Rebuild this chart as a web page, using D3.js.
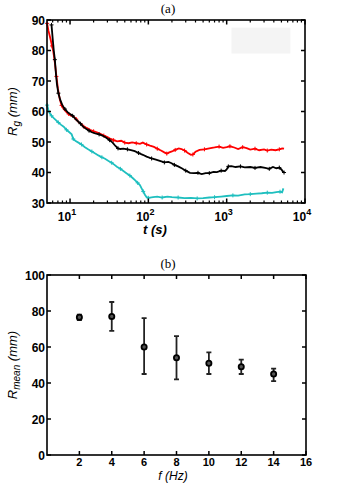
<!DOCTYPE html>
<html>
<head>
<meta charset="utf-8">
<script src="https://cdn.jsdelivr.net/npm/d3@7"></script>
<style>
  body { margin: 0; background: #fff; }
  svg { display: block; }
</style>
</head>
<body>
<div id="chart"></div>
<script>
// panel (a): R_g versus t, three runs
const redT = [5.1, 5.3, 5.6, 5.9, 6.1, 6.4, 6.7, 7.0, 7.4, 7.8, 8.3, 9.0, 9.6, 10.3, 11, 12, 13, 14, 15, 16.5, 18, 20, 22, 24, 27, 30, 33, 36, 40, 45, 50, 56, 62, 70, 78, 85, 95, 105, 118, 130, 145, 160, 172, 185, 200, 220, 245, 265, 290, 320, 350, 370, 400, 450, 520, 600, 700, 800, 900, 1000, 1100, 1250, 1400, 1600, 1800, 2000, 2300, 2600, 3000, 3300, 3700, 4200, 4700, 5100, 5400];
const redR = [88.9, 86.5, 84, 81.5, 79.8, 76, 71.5, 67.5, 64, 62, 60.8, 59.8, 59.2, 58.6, 58.4, 57.5, 56.4, 55.9, 55, 54.6, 54, 53.5, 53.2, 52.8, 52.1, 51.6, 51, 50.6, 50.2, 50.4, 49.8, 49.6, 49.9, 49.6, 49.4, 49.8, 49.2, 48.8, 48.4, 47.8, 47.2, 46.6, 46.2, 46.6, 46.9, 47.4, 47.9, 47.7, 47.2, 46.4, 45.8, 45.9, 46.8, 47.4, 47.6, 47.9, 48.2, 48.5, 48.1, 48.3, 48.6, 48.2, 47.7, 48.3, 48.0, 47.5, 47.8, 47.3, 47.6, 47.2, 47.5, 47.3, 47.6, 47.9, 47.8];

const blackT = [5.8, 6.0, 6.2, 6.4, 6.6, 6.8, 7.1, 7.5, 8.0, 8.6, 9.3, 10, 10.8, 11.7, 12.6, 13.6, 14.8, 16, 17.5, 19, 21, 23.5, 26, 29, 32, 35, 38, 41, 44, 48, 54, 60, 67, 75, 85, 95, 110, 125, 140, 160, 180, 195, 215, 240, 270, 300, 340, 380, 430, 480, 540, 600, 680, 750, 850, 950, 1000, 1050, 1150, 1300, 1500, 1700, 2000, 2300, 2700, 3100, 3500, 3900, 4300, 4700, 5000, 5200, 5400];
const blackR = [88.4, 84, 80, 77, 72.5, 69, 66, 63.8, 62, 60.8, 59.8, 59.2, 58.6, 57.6, 56.8, 56, 55, 54.3, 53.7, 53.2, 52.8, 52.5, 52.1, 51.4, 50.6, 49.8, 48.7, 47.9, 47.7, 47.8, 47.6, 47.3, 47.0, 46.4, 45.8, 45.2, 44.6, 44.2, 43.8, 43.3, 43.5, 43.1, 42.5, 42, 41.3, 40.6, 39.9, 39.8, 39.9, 39.5, 39.8, 39.8, 40.2, 40.1, 40.6, 40.5, 41, 42, 42.1, 41.8, 42, 41.7, 41.8, 41.5, 41.8, 41.5, 41.2, 41.8, 41.4, 41.6, 41, 40.4, 40];

const cyanT = [5.1, 5.3, 5.5, 5.8, 6.2, 6.6, 7.1, 7.7, 8.3, 9, 9.8, 10.5, 11, 11.8, 12.8, 14, 15.5, 17, 19, 21, 23, 25.5, 28, 31, 34, 37, 40, 44, 48, 53, 58, 63, 68, 73, 78, 82, 86, 90, 95, 100, 115, 130, 150, 175, 200, 240, 290, 350, 420, 500, 600, 700, 850, 1000, 1200, 1400, 1700, 2000, 2400, 2800, 3300, 3800, 4300, 4800, 5100, 5300];
const cyanR = [62.1, 60.5, 59.4, 58.6, 57.8, 57.2, 56.4, 55.6, 55, 54, 53.2, 52.5, 51, 50.3, 49.8, 49.2, 48.3, 47.6, 46.9, 46.2, 45.6, 45, 44.5, 43.8, 43.2, 42.5, 41.8, 41.2, 40.5, 39.7, 39, 38.2, 37.4, 36.6, 35.9, 34.8, 33.8, 32.8, 31.9, 31.7, 31.9, 32.1, 31.8, 32.1, 31.9, 31.8, 31.6, 31.7, 31.5, 31.6, 31.8, 31.9, 32.1, 32.3, 32.5, 32.4, 32.8, 32.9, 33.1, 33.2, 33.4, 33.3, 33.6, 33.7, 33.5, 34.8];

const aYTicks = [30, 40, 50, 60, 70, 80, 90];
const aXTicks = [10, 100, 1000, 10000];

// panel (b): R_mean versus f with error bars
const freqs = [2, 4, 6, 8, 10, 12, 14];
const rMean = [76.5, 77, 60, 54, 51, 49, 45];
const rLow  = [75, 69, 45, 42, 45, 45, 41];
const rHigh = [78, 85, 76, 66, 57, 53, 48];
const bXTicks = [2, 4, 6, 8, 10, 12, 14, 16];
const bYTicks = [0, 20, 40, 60, 80, 100];

const SANS = "Liberation Sans, Arial, Helvetica, sans-serif";
const SERIF = "Liberation Serif, Times New Roman, serif";

const svg = d3.select("#chart").append("svg")
    .attr("width", 337)
    .attr("height", 491);

function tickText(x, y, anchor, size) {
    return svg.append("text")
        .attr("x", x).attr("y", y)
        .attr("text-anchor", anchor)
        .attr("font-family", SANS)
        .attr("font-size", size || "12px")
        .attr("font-weight", "bold");
}

// ---------- panel (a) ----------
const a = { left: 47, right: 305, top: 20, bottom: 203 };

const xA = d3.scaleLog().domain([5.08, 10000]).range([a.left, a.right]);
const yA = d3.scaleLinear().domain([30, 90]).range([a.bottom, a.top]);

svg.append("text")
    .attr("x", 168).attr("y", 13)
    .attr("text-anchor", "middle")
    .attr("font-family", SERIF).attr("font-size", "13px")
    .text("(a)");

// faint box top right (leftover legend area)
svg.append("rect")
    .attr("x", xA(1150)).attr("y", yA(87.5))
    .attr("width", xA(6500) - xA(1150))
    .attr("height", yA(79) - yA(87.5))
    .attr("fill", "#f4f4f4");

const lineA = d3.line()
    .x(d => xA(d[0]))
    .y(d => yA(d[1]));

const seriesA = [
    { t: redT, r: redR, color: "#ff0000" },
    { t: cyanT, r: cyanR, color: "#1fbfbf" },
    { t: blackT, r: blackR, color: "#000000" }
];

seriesA.forEach(s => {
    const pts = s.t.map((t, i) => [t, s.r[i]]);
    svg.append("path")
        .datum(pts)
        .attr("fill", "none")
        .attr("stroke", s.color)
        .attr("stroke-width", 1.8)
        .attr("d", lineA);
    // small + markers
    svg.append("g").selectAll("path")
        .data(pts.filter((d, i) => i % 3 === 0))
        .enter()
        .append("path")
        .attr("d", d => {
            const x = xA(d[0]), y = yA(d[1]);
            return `M${x - 2},${y}H${x + 2}M${x},${y - 2}V${y + 2}`;
        })
        .attr("stroke", s.color)
        .attr("stroke-width", 1);
});

// frame
svg.append("rect")
    .attr("x", a.left).attr("y", a.top)
    .attr("width", a.right - a.left).attr("height", a.bottom - a.top)
    .attr("fill", "none").attr("stroke", "#000").attr("stroke-width", 1.6);

// y ticks (inward, both sides)
aYTicks.forEach(v => {
    const y = yA(v);
    svg.append("path")
        .attr("d", `M${a.left},${y}h4M${a.right},${y}h-4`)
        .attr("stroke", "#000").attr("stroke-width", 1.5);
    tickText(a.left - 2, y + 4.5, "end").text(v);
});

// log x ticks: majors and minors
const minorA = [];
[1, 10, 100, 1000].forEach(dec => {
    for (let k = 2; k <= 9; k++) {
        const v = dec * k;
        if (v >= 5.08 && v <= 10000) minorA.push(v);
    }
});
minorA.forEach(v => {
    const x = xA(v);
    svg.append("path")
        .attr("d", `M${x},${a.bottom}v-2.5M${x},${a.top}v2.5`)
        .attr("stroke", "#000").attr("stroke-width", 1.2);
});
aXTicks.forEach(v => {
    const x = xA(v);
    svg.append("path")
        .attr("d", `M${x},${a.bottom}v-4.5M${x},${a.top}v4.5`)
        .attr("stroke", "#000").attr("stroke-width", 1.5);
    const lab = tickText(x - 3, a.bottom + 18, "middle");
    lab.append("tspan").text("10");
    lab.append("tspan").attr("dy", -6).attr("font-size", "9px").text(Math.round(Math.log10(v)));
});

svg.append("text")
    .attr("x", 155).attr("y", 234)
    .attr("text-anchor", "middle")
    .attr("font-family", SANS).attr("font-size", "13px")
    .attr("font-style", "italic").attr("font-weight", "bold")
    .text("t (s)");

const yTitleA = svg.append("text")
    .attr("transform", `translate(17,${(a.top + a.bottom) / 2}) rotate(-90)`)
    .attr("text-anchor", "middle")
    .attr("font-family", SANS).attr("font-size", "13px")
    .attr("font-style", "italic");
yTitleA.append("tspan").text("R");
yTitleA.append("tspan").attr("dy", 3).attr("font-size", "10px").text("g");
yTitleA.append("tspan").attr("dy", -3).text(" (mm)");

// ---------- panel (b) ----------
const b = { left: 47, right: 306, top: 275, bottom: 455 };

const xB = d3.scaleLinear().domain([0, 16]).range([b.left, b.right]);
const yB = d3.scaleLinear().domain([0, 100]).range([b.bottom, b.top]);

svg.append("text")
    .attr("x", 168).attr("y", 268)
    .attr("text-anchor", "middle")
    .attr("font-family", SERIF).attr("font-size", "13px")
    .text("(b)");

svg.append("rect")
    .attr("x", b.left).attr("y", b.top)
    .attr("width", b.right - b.left).attr("height", b.bottom - b.top)
    .attr("fill", "none").attr("stroke", "#000").attr("stroke-width", 1.6);

bYTicks.forEach(v => {
    const y = yB(v);
    svg.append("path")
        .attr("d", `M${b.left},${y}h4M${b.right},${y}h-4`)
        .attr("stroke", "#000").attr("stroke-width", 1.5);
    tickText(b.left - 2, y + 4.5, "end").text(v);
});

bXTicks.forEach(v => {
    const x = xB(v);
    svg.append("path")
        .attr("d", `M${x},${b.bottom}v-4M${x},${b.top}v4`)
        .attr("stroke", "#000").attr("stroke-width", 1.5);
    tickText(x, b.bottom + 11, "middle", "11px").text(v);
});

// error bars
const ptsB = freqs.map((f, i) => ({ f, m: rMean[i], lo: rLow[i], hi: rHigh[i] }));

const eb = svg.append("g").selectAll("g")
    .data(ptsB)
    .enter()
    .append("g");

eb.append("line")
    .attr("x1", d => xB(d.f)).attr("x2", d => xB(d.f))
    .attr("y1", d => yB(d.lo)).attr("y2", d => yB(d.hi))
    .attr("stroke", "#222").attr("stroke-width", 1.8);

eb.append("path")
    .attr("d", d => `M${xB(d.f) - 2.5},${yB(d.hi)}h5M${xB(d.f) - 2.5},${yB(d.lo)}h5`)
    .attr("stroke", "#222").attr("stroke-width", 1.8);

eb.append("circle")
    .attr("cx", d => xB(d.f)).attr("cy", d => yB(d.m))
    .attr("r", 2.6)
    .attr("fill", "#555")
    .attr("stroke", "#000").attr("stroke-width", 1.8);

svg.append("text")
    .attr("x", 173).attr("y", 480)
    .attr("text-anchor", "middle")
    .attr("font-family", SANS).attr("font-size", "12px")
    .attr("font-style", "italic")
    .text("f (Hz)");

const yTitleB = svg.append("text")
    .attr("transform", `translate(17,${(b.top + b.bottom) / 2}) rotate(-90)`)
    .attr("text-anchor", "middle")
    .attr("font-family", SANS).attr("font-size", "13px")
    .attr("font-style", "italic");
yTitleB.append("tspan").text("R");
yTitleB.append("tspan").attr("dy", 3).attr("font-size", "10px").text("mean");
yTitleB.append("tspan").attr("dy", -3).text(" (mm)");
</script>
</body>
</html>
